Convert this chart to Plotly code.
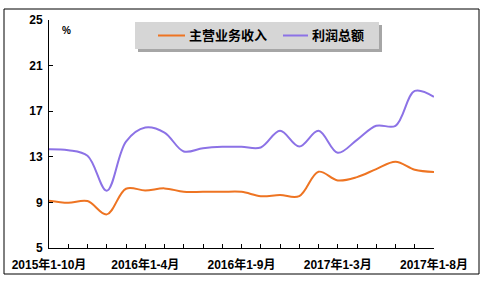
import plotly.graph_objects as go

categories = [
    "2015年1-10月", "2015年1-11月", "2015年1-12月",
    "2016年1-2月", "2016年1-3月", "2016年1-4月", "2016年1-5月", "2016年1-6月",
    "2016年1-7月", "2016年1-8月", "2016年1-9月", "2016年1-10月", "2016年1-11月",
    "2016年1-12月", "2017年1-2月", "2017年1-3月", "2017年1-4月", "2017年1-5月",
    "2017年1-6月", "2017年1-7月", "2017年1-8月",
]
revenue = [9.15, 8.97, 9.12, 7.95, 10.2, 10.05, 10.23, 9.93, 9.93, 9.93, 9.93,
           9.55, 9.64, 9.55, 11.69, 10.93, 11.22, 11.92, 12.56, 11.86, 11.66]
profit = [13.67, 13.58, 13.09, 10.02, 14.34, 15.57, 15.13, 13.47, 13.76, 13.88, 13.88,
          13.82, 15.28, 13.9, 15.28, 13.35, 14.49, 15.72, 15.72, 18.78, 18.26]
series_names = ["主营业务收入", "利润总额"]
series_colors = ["#ee7422", "#8c72e6"]
y_ticks = [5, 9, 13, 17, 21, 25]
shown_labels = ["2015年1-10月", "2016年1-4月", "2016年1-9月", "2017年1-3月", "2017年1-8月"]

FONT = "Liberation Sans, Arial, Noto Sans CJK SC, sans-serif"
W, H = 490, 283
L, R, T, B = 49, 56, 20, 35
pw, ph = W - L - R, H - T - B

def px_x(p):
    return (p - L) / pw

def px_y(p):
    return (H - B - p) / ph

fig = go.Figure()
fig.add_trace(go.Scatter(x=categories, y=revenue, name=series_names[0], mode="lines",
                         line=dict(color=series_colors[0], width=2, shape="spline", smoothing=1.0)))
fig.add_trace(go.Scatter(x=categories, y=profit, name=series_names[1], mode="lines",
                         line=dict(color=series_colors[1], width=2, shape="spline", smoothing=1.0)))

ticktext = [c if c in shown_labels else "" for c in categories]

# manual legend geometry (pixels)
legend_box = (135, 22, 379, 49)
legend_items = [(158, 185, 187), (283, 308, 310)]
legend_cy = 35.5

shapes = [
    dict(type="rect", xref="paper", yref="paper",
         x0=px_x(4), x1=px_x(479), y0=px_y(274), y1=px_y(9),
         line=dict(color="black", width=1), fillcolor="rgba(0,0,0,0)", layer="above"),
    dict(type="rect", xref="paper", yref="paper",
         x0=px_x(legend_box[0] + 3), x1=px_x(legend_box[2] + 3),
         y0=px_y(legend_box[3] + 3), y1=px_y(legend_box[1] + 3),
         line=dict(width=0), fillcolor="#a6a6a6", layer="above"),
    dict(type="rect", xref="paper", yref="paper",
         x0=px_x(legend_box[0]), x1=px_x(legend_box[2]),
         y0=px_y(legend_box[3]), y1=px_y(legend_box[1]),
         line=dict(width=0), fillcolor="#d6d6d6", layer="above"),
]
annotations = [
    dict(text="%", xref="paper", yref="paper", x=px_x(66), y=px_y(30),
         xanchor="center", yanchor="middle", showarrow=False,
         font=dict(family=FONT, size=10, color="black", weight="bold")),
]
for (lx0, lx1, tx), name, col in zip(legend_items, series_names, series_colors):
    shapes.append(dict(type="line", xref="paper", yref="paper",
                       x0=px_x(lx0), x1=px_x(lx1), y0=px_y(legend_cy), y1=px_y(legend_cy),
                       line=dict(color=col, width=2), layer="above"))
    annotations.append(dict(text=name, xref="paper", yref="paper", x=px_x(tx), y=px_y(legend_cy),
                            xanchor="left", yanchor="middle", showarrow=False,
                            font=dict(family=FONT, size=13, color="black", weight="bold")))

fig.update_layout(
    width=W, height=H,
    margin=dict(l=L, r=R, t=T, b=B),
    paper_bgcolor="white", plot_bgcolor="white",
    font=dict(family=FONT, size=12, color="black"),
    showlegend=False,
    xaxis=dict(
        type="category", range=[0, len(categories) - 1],
        tickmode="array", tickvals=categories, ticktext=ticktext,
        ticks="inside", ticklen=4, tickcolor="black", tickwidth=1,
        showline=True, linecolor="black", linewidth=1,
        showgrid=False, zeroline=False,
        tickangle=0, ticklabelstandoff=6,
        tickfont=dict(family=FONT, size=12, color="black", weight="bold"),
    ),
    yaxis=dict(
        range=[5, 25], tickmode="array", tickvals=y_ticks,
        ticks="inside", ticklen=4, tickcolor="black", tickwidth=1,
        showline=True, linecolor="black", linewidth=1,
        showgrid=False, zeroline=False, ticklabelstandoff=3,
        tickfont=dict(family=FONT, size=12, color="black", weight="bold"),
    ),
    shapes=shapes,
    annotations=annotations,
)

fig.write_html("out.html")
